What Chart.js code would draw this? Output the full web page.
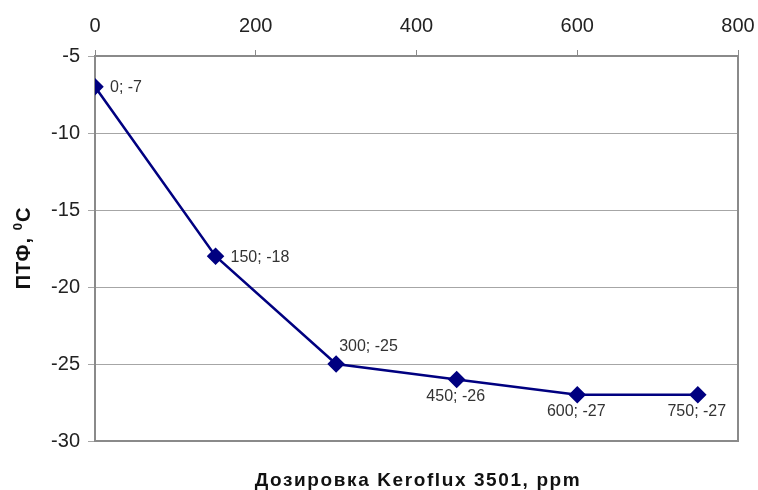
<!DOCTYPE html>
<html>
<head>
<meta charset="utf-8">
<script src="https://cdn.jsdelivr.net/npm/chart.js@4"></script>
<style>
  html, body { margin: 0; padding: 0; background: #fff; }
  #wrap { width: 758px; height: 490px; }
</style>
</head>
<body>
<div id="wrap"><canvas id="c" width="758" height="490"></canvas></div>
<script>
// Dosage of Keroflux 3501 (ppm) and pour point (°C)
const doses = [0, 150, 300, 450, 600, 750];
const pourPoint = [-7, -18, -25, -26, -27, -27];
const xTicks = [0, 200, 400, 600, 800];
const yTicks = [-30, -25, -20, -15, -10, -5];
// where each point label sits relative to its marker
const labelPlacement = ['right', 'right', 'above', 'below', 'below', 'below'];

const FONT = '"Liberation Sans", Arial, sans-serif';
const GRID = '#a6a6a6';
const AXIS = '#8a8a8a';
const NAVY = '#000080';

const pointLabels = {
  id: 'pointLabels',
  afterDatasetsDraw(chart) {
    const ctx = chart.ctx;
    const meta = chart.getDatasetMeta(0);
    ctx.save();
    ctx.font = '16px ' + FONT;
    ctx.fillStyle = '#333';
    meta.data.forEach((pt, i) => {
      const txt = doses[i] + '; ' + pourPoint[i];
      const p = labelPlacement[i];
      ctx.textBaseline = 'middle';
      if (p === 'right') {
        ctx.textAlign = 'left';
        ctx.fillText(txt, pt.x + 15, pt.y + 1);
      } else if (p === 'above') {
        ctx.textAlign = 'left';
        ctx.fillText(txt, pt.x + 3, pt.y - 17);
      } else {
        ctx.textAlign = 'center';
        ctx.fillText(txt, pt.x - 1, pt.y + 17);
      }
    });
    ctx.restore();
  }
};

const frame = {
  id: 'frame',
  beforeDatasetsDraw(chart) {
    const { ctx, chartArea: a } = chart;
    ctx.save();
    ctx.strokeStyle = AXIS;
    ctx.lineWidth = 2;
    ctx.beginPath();
    ctx.moveTo(a.left, a.bottom);
    ctx.lineTo(a.right, a.bottom);
    ctx.lineTo(a.right, a.top);
    ctx.stroke();
    ctx.restore();
  },
  afterDraw(chart) {
    const { ctx } = chart;
    ctx.save();
    ctx.fillStyle = '#111';
    // bottom axis title
    ctx.font = 'bold 19px ' + FONT;
    ctx.letterSpacing = '1.6px';
    ctx.textAlign = 'center';
    ctx.textBaseline = 'alphabetic';
    ctx.fillText('Дозировка Keroflux 3501, ppm', 418, 486);
    // vertical axis title with superscript degree zero
    ctx.letterSpacing = '1px';
    const main = 'ПТФ, ';
    const sup = '0';
    const unit = 'C';
    ctx.font = 'bold 20px ' + FONT;
    const wMain = ctx.measureText(main).width;
    const wUnit = ctx.measureText(unit).width;
    ctx.font = 'bold 13px ' + FONT;
    const wSup = ctx.measureText(sup).width;
    const total = wMain + wSup + wUnit;
    ctx.translate(30, 248);
    ctx.rotate(-Math.PI / 2);
    ctx.textAlign = 'left';
    let x = -total / 2;
    ctx.font = 'bold 20px ' + FONT;
    ctx.fillText(main, x, 0);
    x += wMain;
    ctx.font = 'bold 13px ' + FONT;
    ctx.fillText(sup, x, -8);
    x += wSup;
    ctx.font = 'bold 20px ' + FONT;
    ctx.fillText(unit, x, 0);
    ctx.restore();
  }
};

new Chart(document.getElementById('c'), {
  type: 'line',
  data: {
    datasets: [{
      data: doses.map((d, i) => ({ x: d, y: pourPoint[i] })),
      borderColor: NAVY,
      backgroundColor: NAVY,
      borderWidth: 2.5,
      pointStyle: 'rectRot',
      pointRadius: 7,
      pointHoverRadius: 7,
      tension: 0
    }]
  },
  options: {
    responsive: false,
    animation: false,
    events: [],
    layout: { padding: { top: 0, right: 20, bottom: 49, left: 0 } },
    plugins: { legend: { display: false }, tooltip: { enabled: false } },
    scales: {
      x: {
        type: 'linear',
        position: 'top',
        min: 0, max: 800,
        afterBuildTicks(s) { s.ticks = xTicks.map(v => ({ value: v })); },
        afterFit(s) { s.height = 56; s.paddingLeft = 0; s.paddingRight = 0; },
        ticks: { font: { family: FONT, size: 20 }, color: '#222', padding: 12 },
        grid: { drawOnChartArea: false, drawTicks: true, tickLength: 6, color: AXIS, lineWidth: 1 },
        border: { color: AXIS, width: 2 }
      },
      y: {
        type: 'linear',
        min: -30, max: -5,
        afterBuildTicks(s) { s.ticks = yTicks.map(v => ({ value: v })); },
        afterFit(s) { s.width = 95; s.paddingTop = 0; s.paddingBottom = 0; },
        ticks: { font: { family: FONT, size: 20 }, color: '#222', padding: 8 },
        grid: { color: GRID, lineWidth: 1, drawTicks: true, tickLength: 7 },
        border: { color: AXIS, width: 2 }
      }
    }
  },
  plugins: [pointLabels, frame]
});
</script>
</body>
</html>
